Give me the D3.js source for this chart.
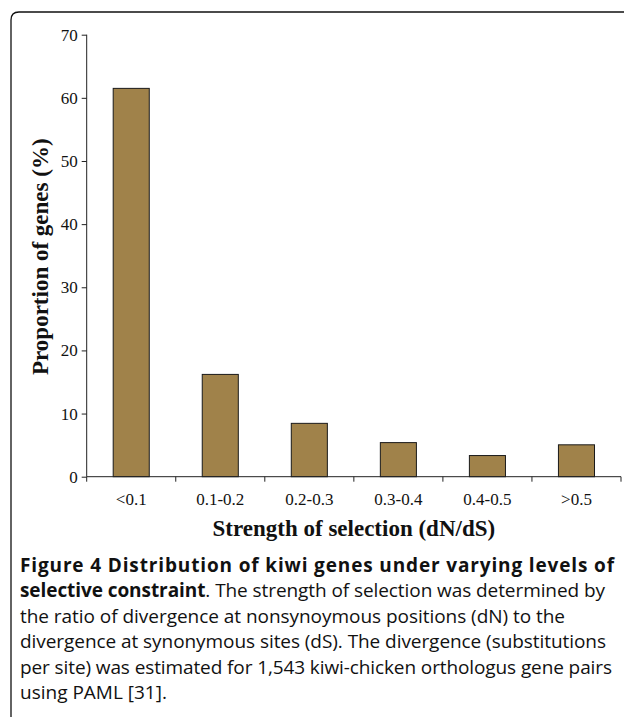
<!DOCTYPE html>
<html>
<head>
<meta charset="utf-8">
<script src="https://cdn.jsdelivr.net/npm/d3@7"></script>
<style>
  html, body { margin: 0; padding: 0; background: #fff; }
  svg { display: block; }
</style>
</head>
<body>
<svg id="chart" width="628" height="719"></svg>
<script>
const categories = ["<0.1", "0.1-0.2", "0.2-0.3", "0.3-0.4", "0.4-0.5", ">0.5"];
const values = [61.5, 16.2, 8.45, 5.4, 3.35, 5.05];
const yTicks = [0, 10, 20, 30, 40, 50, 60, 70];
const yTitle = "Proportion of genes (%)";
const xTitle = "Strength of selection (dN/dS)";
const captionLines = [
  [{t: "Figure 4 Distribution of kiwi genes under varying levels of", b: true}],
  [{t: "selective constraint", b: true}, {t: ". The strength of selection was determined by", b: false}],
  [{t: "the ratio of divergence at nonsynoymous positions (dN) to the", b: false}],
  [{t: "divergence at synonymous sites (dS). The divergence (substitutions", b: false}],
  [{t: "per site) was estimated for 1,543 kiwi-chicken orthologus gene pairs", b: false}],
  [{t: "using PAML [31].", b: false}]
];
const captionEnds = [614, 605, 565, 606, 612, null];

const svg = d3.select("#chart");
const serif = "'Liberation Serif', 'Times New Roman', serif";

// frame (top and left border with rounded corner)
svg.append("path")
  .attr("d", "M11,717 L11,20 Q11,12 19,12 L624,12")
  .attr("fill", "none").attr("stroke", "#111").attr("stroke-width", 1.3);

const x0 = 86.7, x1 = 621, yB = 476.7, yT = 34.7;
const x = d3.scaleBand().domain(categories).range([x0, x1]).padding(0);
const y = d3.scaleLinear().domain([0, 70]).range([yB, yT]);

// bars
const bw = x.step() * 0.405;
svg.append("g").selectAll("rect").data(categories).join("rect")
  .attr("x", (d) => x(d) + x.bandwidth() / 2 - bw / 2)
  .attr("y", (d, i) => y(values[i]))
  .attr("width", bw)
  .attr("height", (d, i) => y(0) - y(values[i]))
  .attr("fill", "#a0824a")
  .attr("stroke", "#1a1a1a")
  .attr("stroke-width", 1);

// y axis
const gy = svg.append("g").attr("transform", `translate(${x0},0)`)
  .call(d3.axisLeft(y).tickValues(yTicks).tickSize(5).tickPadding(4).tickFormat(d3.format("d")));
gy.select(".domain").attr("stroke", "#222").attr("d", `M-0,${yT}H0V${yB}H-0`);
gy.selectAll(".tick line").attr("stroke", "#222");
gy.selectAll("text").attr("font-family", serif).attr("font-size", 17).attr("fill", "#111");

// x axis: labels
const gx = svg.append("g").attr("transform", `translate(0,${yB})`)
  .call(d3.axisBottom(x).tickSize(0).tickPadding(16));
gx.select(".domain").attr("stroke", "#222").attr("d", `M${x0},0H${x1}`);
gx.selectAll("text").attr("font-family", serif).attr("font-size", 17).attr("fill", "#111");
// boundary ticks
const bounds = categories.map((d) => x(d)).concat([x1]);
gx.append("g").selectAll("line").data(bounds).join("line")
  .attr("x1", (d) => d).attr("x2", (d) => d)
  .attr("y1", 0).attr("y2", 5)
  .attr("stroke", "#222");

// axis titles
svg.append("text")
  .attr("transform", `translate(48,${(yT + yB) / 2 + 1}) rotate(-90)`)
  .attr("text-anchor", "middle")
  .attr("font-family", serif).attr("font-weight", "bold").attr("font-size", 23)
  .attr("fill", "#111")
  .text(yTitle);

svg.append("text")
  .attr("x", (x0 + x1) / 2).attr("y", 536)
  .attr("text-anchor", "middle")
  .attr("font-family", serif).attr("font-weight", "bold").attr("font-size", 23)
  .attr("fill", "#111")
  .text(xTitle);

// caption
const cap = svg.append("g");
captionLines.forEach((line, i) => {
  const t = cap.append("text")
    .attr("x", 20).attr("y", 572 + i * 25.4)
    .attr("font-family", "'Open Sans', 'Noto Sans', sans-serif")
    .attr("font-size", 19).attr("fill", "#111");
  if (captionEnds[i]) {
    t.attr("textLength", captionEnds[i] - 20).attr("lengthAdjust", "spacing");
  }
  line.forEach((seg) => {
    t.append("tspan").attr("font-weight", seg.b ? "bold" : "normal").text(seg.t);
  });
});
</script>
</body>
</html>
